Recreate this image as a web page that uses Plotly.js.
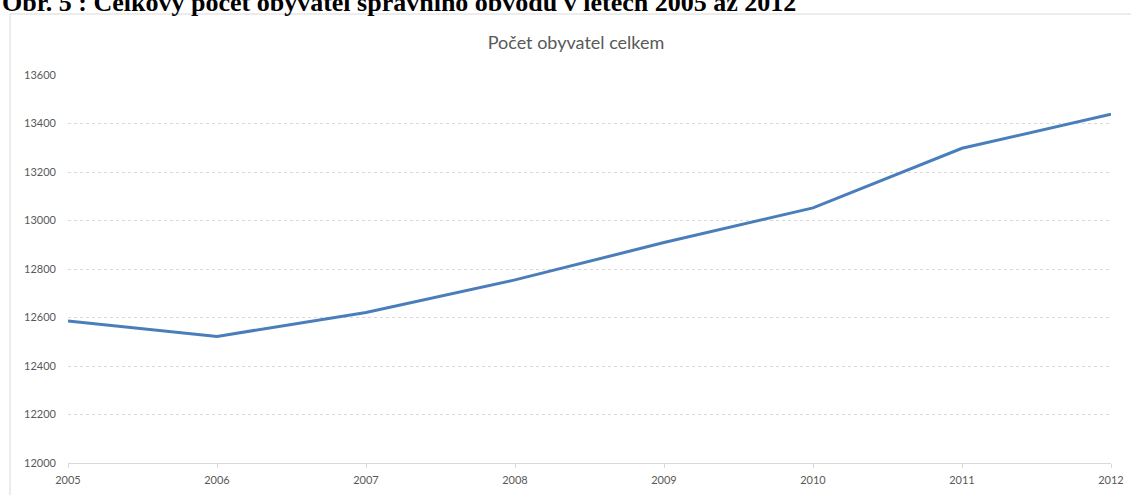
<!DOCTYPE html>
<html>
<head>
<meta charset="utf-8">
<script src="https://cdn.plot.ly/plotly-3.0.1.min.js"></script>
<style>
html,body{margin:0;padding:0;background:#fff;}
#chart{width:1131px;height:495px;}
</style>
</head>
<body>
<div id="chart"></div>
<script>
const years = [2005, 2006, 2007, 2008, 2009, 2010, 2011, 2012];
const population = [12586, 12522, 12621, 12755, 12909, 13052, 13298, 13438];
const yTicks = [12000, 12200, 12400, 12600, 12800, 13000, 13200, 13400, 13600];
const chartTitle = 'Počet obyvatel celkem';
const figureCaption = 'Obr. 5 : Celkový počet obyvatel správního obvodu v letech 2005 až 2012';

const trace = {
  x: years,
  y: population,
  type: 'scatter',
  mode: 'lines',
  line: {color: '#4a7ebb', width: 3},
  hoverinfo: 'x+y'
};

const plotL = 68, plotR = 1111, plotT = 75, plotB = 463;
const W = 1131, H = 495;
const pw = plotR - plotL, ph = plotB - plotT;
function px2x(p){ return (p - plotL) / pw; }
function px2y(p){ return (plotB - p) / ph; }

const layout = {
  width: W, height: H,
  margin: {l: plotL, r: W - plotR, t: plotT, b: H - plotB, pad: 0},
  paper_bgcolor: '#ffffff',
  plot_bgcolor: '#ffffff',
  showlegend: false,
  font: {family: 'Lato, "Open Sans", sans-serif', color: '#595959'},
  title: {
    text: chartTitle,
    font: {family: 'Lato, "Open Sans", sans-serif', size: 18, color: '#595959'},
    x: 576 / W, xanchor: 'center', xref: 'container',
    y: 1 - 43 / H, yanchor: 'middle', yref: 'container'
  },
  xaxis: {
    range: [2005, 2012],
    tickvals: years,
    ticktext: years.map(String),
    showgrid: false,
    zeroline: false,
    showline: true,
    linecolor: '#d9d9d9',
    linewidth: 1,
    ticks: 'outside',
    ticklen: 4,
    tickcolor: '#d9d9d9',
    ticklabelstandoff: 3,
    tickfont: {size: 11, color: '#595959'},
    fixedrange: true
  },
  yaxis: {
    range: [12000, 13600],
    tickvals: yTicks,
    ticktext: yTicks.map(String),
    showgrid: true,
    gridcolor: '#d9d9d9',
    griddash: 'dot',
    gridwidth: 1,
    zeroline: false,
    showline: false,
    ticks: '',
    ticklabelstandoff: 11,
    tickfont: {size: 11, color: '#595959'},
    fixedrange: true
  },
  shapes: [{
    type: 'rect', xref: 'paper', yref: 'paper',
    x0: px2x(10), x1: px2x(W + 5), y0: px2y(H + 5), y1: px2y(14),
    line: {color: '#d9d9d9', width: 1},
    fillcolor: 'rgba(0,0,0,0)', layer: 'below'
  }],
  annotations: [{
    text: '<b>' + figureCaption + '</b>',
    xref: 'paper', yref: 'paper',
    x: px2x(0), xanchor: 'left',
    y: px2y(2), yanchor: 'middle',
    showarrow: false,
    font: {family: '"Liberation Serif", "Times New Roman", serif', size: 26, color: '#000000'}
  }]
};

Plotly.newPlot('chart', [trace], layout, {displayModeBar: false, staticPlot: true});
</script>
</body>
</html>
